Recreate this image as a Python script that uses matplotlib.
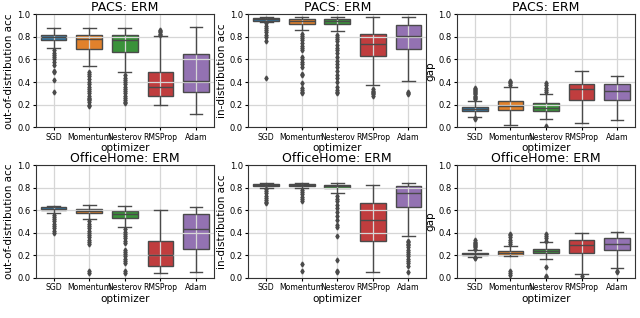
import matplotlib.pyplot as plt

optimizers = ["SGD", "Momentum", "Nesterov", "RMSProp", "Adam"]
colors = ["#3274a1", "#e1812c", "#3a923a", "#c03d3e", "#9372b2"]

# box stats per panel: (whislo, q1, med, q3, whishi) for each optimizer
pacs_ood = [(0.70, 0.77, 0.80, 0.82, 0.88), (0.545, 0.69, 0.78, 0.82, 0.88),
            (0.49, 0.67, 0.77, 0.815, 0.88), (0.195, 0.28, 0.355, 0.49, 0.805),
            (0.12, 0.31, 0.41, 0.65, 0.89)]
pacs_ood_fl = [[0.68, 0.66, 0.64, 0.62, 0.60, 0.58, 0.55, 0.50, 0.49, 0.42, 0.31],
               [0.49, 0.47, 0.45, 0.43, 0.40, 0.38, 0.36, 0.34, 0.32, 0.30, 0.28, 0.26, 0.25, 0.24, 0.22, 0.20, 0.19],
               [0.46, 0.44, 0.42, 0.40, 0.38, 0.36, 0.34, 0.32, 0.30, 0.28, 0.26, 0.24, 0.22, 0.21],
               [0.82, 0.83, 0.84, 0.85, 0.86], []]

pacs_id = [(0.93, 0.945, 0.955, 0.965, 0.975), (0.865, 0.91, 0.94, 0.96, 0.975),
           (0.855, 0.915, 0.94, 0.96, 0.975), (0.375, 0.635, 0.74, 0.825, 0.975),
           (0.41, 0.695, 0.805, 0.905, 0.975)]
pacs_id_fl = [[0.92, 0.90, 0.88, 0.86, 0.84, 0.82, 0.80, 0.76, 0.44],
              [0.83, 0.81, 0.79, 0.77, 0.75, 0.72, 0.70, 0.68, 0.62, 0.60, 0.58, 0.56, 0.53, 0.47, 0.46, 0.39, 0.35, 0.33, 0.31, 0.30],
              [0.82, 0.80, 0.78, 0.76, 0.73, 0.70, 0.68, 0.66, 0.62, 0.59, 0.56, 0.53, 0.50, 0.46, 0.44, 0.40, 0.36, 0.33, 0.31, 0.30],
              [0.34, 0.32, 0.31, 0.30, 0.29, 0.28], [0.31, 0.30, 0.295]]

pacs_gap = [(0.09, 0.145, 0.16, 0.18, 0.235), (0.02, 0.155, 0.185, 0.235, 0.355),
            (0.07, 0.145, 0.17, 0.21, 0.295), (0.04, 0.245, 0.335, 0.385, 0.50),
            (0.065, 0.245, 0.32, 0.385, 0.45)]
pacs_gap_fl = [[0.25, 0.26, 0.27, 0.28, 0.29, 0.30, 0.31, 0.32, 0.33, 0.34, 0.35, 0.08, 0.075],
               [0.37, 0.39, 0.40, 0.41],
               [0.31, 0.33, 0.35, 0.37, 0.39, 0.01], [], []]

oh_ood = [(0.575, 0.60, 0.615, 0.625, 0.635), (0.52, 0.575, 0.595, 0.615, 0.645),
          (0.45, 0.53, 0.57, 0.59, 0.635), (0.04, 0.11, 0.20, 0.33, 0.60),
          (0.05, 0.255, 0.43, 0.565, 0.625)]
oh_ood_fl = [[0.56, 0.54, 0.52, 0.50, 0.48, 0.46, 0.44, 0.42, 0.40],
             [0.50, 0.48, 0.46, 0.44, 0.42, 0.40, 0.38, 0.36, 0.34, 0.32, 0.30, 0.06, 0.04],
             [0.43, 0.41, 0.39, 0.37, 0.35, 0.33, 0.31, 0.25, 0.23, 0.21, 0.19, 0.17, 0.15, 0.13, 0.06, 0.04],
             [], []]

oh_id = [(0.80, 0.815, 0.825, 0.835, 0.84), (0.795, 0.81, 0.82, 0.83, 0.84),
         (0.75, 0.795, 0.81, 0.825, 0.84), (0.055, 0.325, 0.51, 0.665, 0.825),
         (0.37, 0.63, 0.755, 0.81, 0.84)]
oh_id_fl = [[0.79, 0.77, 0.75, 0.73, 0.71, 0.69, 0.67, 0.66],
            [0.78, 0.76, 0.74, 0.72, 0.70, 0.68, 0.12, 0.06],
            [0.73, 0.70, 0.68, 0.65, 0.62, 0.58, 0.55, 0.51, 0.47, 0.45, 0.37, 0.16, 0.06, 0.05],
            [],
            [0.33, 0.32, 0.30, 0.29, 0.27, 0.25, 0.23, 0.21, 0.19, 0.17, 0.15, 0.13, 0.11, 0.05]]

oh_gap = [(0.185, 0.20, 0.21, 0.225, 0.245), (0.19, 0.205, 0.225, 0.24, 0.285),
          (0.165, 0.22, 0.24, 0.26, 0.315), (0.035, 0.22, 0.29, 0.335, 0.40),
          (0.085, 0.245, 0.30, 0.35, 0.41)]
oh_gap_fl = [[0.26, 0.27, 0.28, 0.29, 0.30, 0.31, 0.32, 0.335, 0.18, 0.175],
             [0.30, 0.32, 0.34, 0.36, 0.38, 0.39, 0.06, 0.04, 0.03],
             [0.33, 0.35, 0.37, 0.39, 0.10, 0.02, 0.01],
             [0.02], [0.06, 0.05]]

panels = [
    ("PACS: ERM", "out-of-distribution acc", pacs_ood, pacs_ood_fl),
    ("PACS: ERM", "in-distribution acc", pacs_id, pacs_id_fl),
    ("PACS: ERM", "gap", pacs_gap, pacs_gap_fl),
    ("OfficeHome: ERM", "out-of-distribution acc", oh_ood, oh_ood_fl),
    ("OfficeHome: ERM", "in-distribution acc", oh_id, oh_id_fl),
    ("OfficeHome: ERM", "gap", oh_gap, oh_gap_fl),
]

fig = plt.figure(figsize=(6.4, 3.18), dpi=100)
lefts = [0.056, 0.388, 0.714]
bottoms = [0.600, 0.126]
w, h = 0.278, 0.355
gray = "#4a4a4a"

for i, (title, ylabel, stats, fliers) in enumerate(panels):
    ax = fig.add_axes([lefts[i % 3], bottoms[i // 3], w, h])
    bx = []
    for (lo, q1, med, q3, hi), fl in zip(stats, fliers):
        bx.append(dict(whislo=lo, q1=q1, med=med, q3=q3, whishi=hi, fliers=fl))
    res = ax.bxp(bx, positions=range(5), widths=0.72, patch_artist=True,
                 boxprops=dict(edgecolor=gray, linewidth=1.0),
                 whiskerprops=dict(color=gray, linewidth=1.0),
                 capprops=dict(color=gray, linewidth=1.0),
                 medianprops=dict(color=gray, linewidth=1.0),
                 flierprops=dict(marker="d", markersize=2.5, markerfacecolor=gray,
                                 markeredgecolor=gray, linestyle="none"))
    for patch, c in zip(res["boxes"], colors):
        patch.set_facecolor(c)
        patch.set_zorder(1)
    ax.set_xlim(-0.5, 4.5)
    ax.set_ylim(0, 1.0)
    ax.set_yticks([0.0, 0.2, 0.4, 0.6, 0.8, 1.0])
    ax.set_xticks(range(5))
    ax.set_xticklabels(optimizers, fontsize=5.6)
    ax.tick_params(axis="y", labelsize=6, length=2.5, pad=1.5)
    ax.tick_params(axis="x", length=2.5, pad=1.5)
    ax.grid(True, color="#d6d6d6", linewidth=0.9)
    ax.set_title(title, fontsize=9, pad=2)
    ax.set_ylabel(ylabel, fontsize=7.5, labelpad=2)
    ax.set_xlabel("optimizer", fontsize=7.5, labelpad=1)
    for s in ax.spines.values():
        s.set_color("#333333")

fig.savefig("out.png", dpi=100)
